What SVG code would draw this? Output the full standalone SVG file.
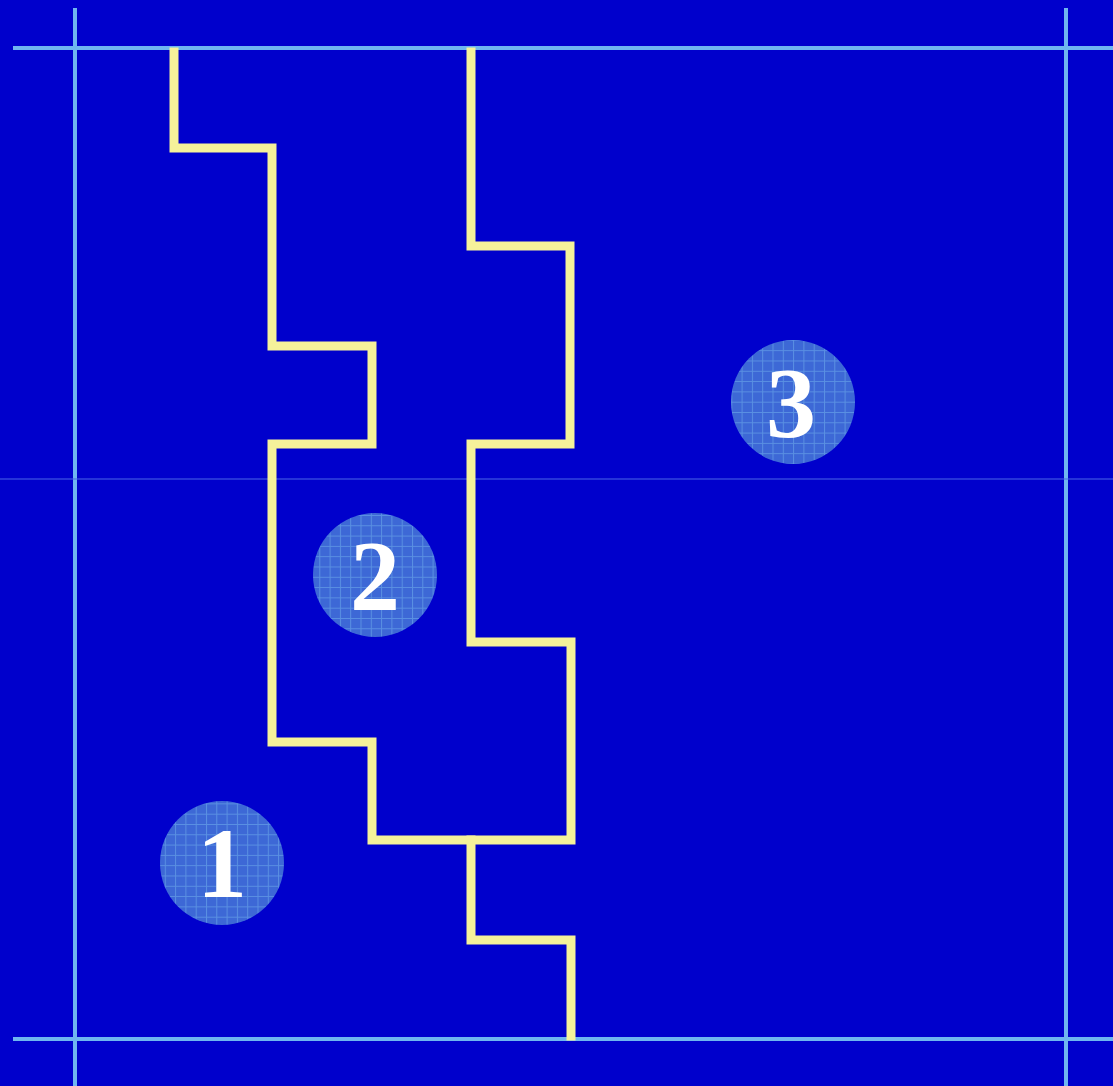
<svg xmlns="http://www.w3.org/2000/svg" width="1113" height="1086" viewBox="0 0 1113 1086">
<style>
.frame{stroke:#6FB6F0;stroke-width:4;fill:none}
.wall{stroke:#F5F29A;stroke-width:9;fill:none;stroke-linecap:square}
.badge{fill:url(#grid)}
.num{font-family:"Liberation Serif",serif;font-weight:bold;font-size:100px;fill:#FFFFFF;text-anchor:middle}
</style>
<defs>
<pattern id="grid" width="10.3" height="10.3" patternUnits="userSpaceOnUse">
<rect width="10.3" height="10.3" fill="#3D68D6"/>
<path d="M0 0.5H10.3M0.5 0V10.3" stroke="#5A90E2" stroke-width="1"/>
</pattern>
</defs>
<rect width="1113" height="1086" fill="#0000CC"/>
<g id="frame">
<line class="frame" x1="75" y1="8" x2="75" y2="1086"/>
<line class="frame" x1="1066" y1="8" x2="1066" y2="1086"/>
<line class="frame" x1="13" y1="48" x2="1113" y2="48"/>
<line class="frame" x1="13" y1="1039" x2="1113" y2="1039"/>
<line x1="0" y1="479" x2="1113" y2="479" stroke="#4A66E6" stroke-width="1"/>
</g>
<g id="connectors">
<path class="wall" d="M174 52V148H272V346H372V444H272V742H372V840H571V642H471V444H570V246H471V52"/>
<path class="wall" d="M471 840V940H571V1036"/>
</g>
<g id="node1"><circle class="badge" cx="222" cy="863" r="62"/><text class="num" x="222" y="897">1</text></g>
<g id="node2"><circle class="badge" cx="375" cy="575" r="62"/><text class="num" x="375" y="609">2</text></g>
<g id="node3"><circle class="badge" cx="793" cy="402" r="62"/><text class="num" x="791" y="436">3</text></g>
</svg>
